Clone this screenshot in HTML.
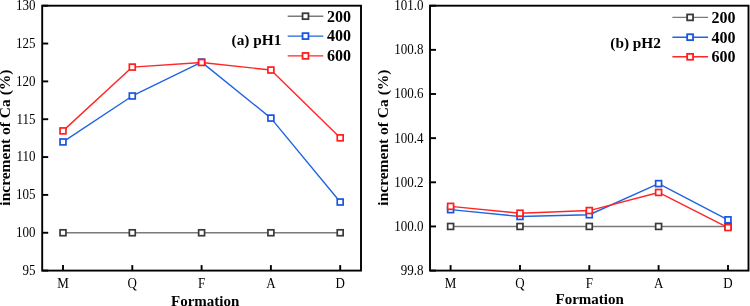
<!DOCTYPE html>
<html><head><meta charset="utf-8"><style>
html,body{margin:0;padding:0;background:#fff;}
body{width:750px;height:306px;overflow:hidden;}
svg{display:block;will-change:transform;}
</style></head><body>
<svg width="750" height="306" viewBox="0 0 750 306">
<rect width="750" height="306" fill="#fff"/>
<polyline points="63.00,232.76 132.30,232.76 201.60,232.76 270.90,232.76 340.20,232.76" fill="none" stroke="#7a7a7a" stroke-width="1.4" stroke-linejoin="round"/><rect x="60.05" y="229.81" width="5.90" height="5.90" fill="#fff" stroke="#3a3a3a" stroke-width="1.7"/><rect x="129.35" y="229.81" width="5.90" height="5.90" fill="#fff" stroke="#3a3a3a" stroke-width="1.7"/><rect x="198.65" y="229.81" width="5.90" height="5.90" fill="#fff" stroke="#3a3a3a" stroke-width="1.7"/><rect x="267.95" y="229.81" width="5.90" height="5.90" fill="#fff" stroke="#3a3a3a" stroke-width="1.7"/><rect x="337.25" y="229.81" width="5.90" height="5.90" fill="#fff" stroke="#3a3a3a" stroke-width="1.7"/><polyline points="63.00,141.93 132.30,95.99 201.60,62.09 270.90,118.09 340.20,202.03" fill="none" stroke="#2164e2" stroke-width="1.4" stroke-linejoin="round"/><rect x="60.05" y="138.98" width="5.90" height="5.90" fill="#fff" stroke="#1855e0" stroke-width="1.7"/><rect x="129.35" y="93.04" width="5.90" height="5.90" fill="#fff" stroke="#1855e0" stroke-width="1.7"/><rect x="198.65" y="59.14" width="5.90" height="5.90" fill="#fff" stroke="#1855e0" stroke-width="1.7"/><rect x="267.95" y="115.14" width="5.90" height="5.90" fill="#fff" stroke="#1855e0" stroke-width="1.7"/><rect x="337.25" y="199.08" width="5.90" height="5.90" fill="#fff" stroke="#1855e0" stroke-width="1.7"/><polyline points="63.00,130.88 132.30,67.08 201.60,62.46 270.90,70.03 340.20,137.85" fill="none" stroke="#ff2626" stroke-width="1.4" stroke-linejoin="round"/><rect x="60.05" y="127.93" width="5.90" height="5.90" fill="#fff" stroke="#ff1e1e" stroke-width="1.7"/><rect x="129.35" y="64.13" width="5.90" height="5.90" fill="#fff" stroke="#ff1e1e" stroke-width="1.7"/><rect x="198.65" y="59.51" width="5.90" height="5.90" fill="#fff" stroke="#ff1e1e" stroke-width="1.7"/><rect x="267.95" y="67.08" width="5.90" height="5.90" fill="#fff" stroke="#ff1e1e" stroke-width="1.7"/><rect x="337.25" y="134.90" width="5.90" height="5.90" fill="#fff" stroke="#ff1e1e" stroke-width="1.7"/><rect x="42.2" y="5.7" width="318.8" height="264.90000000000003" fill="none" stroke="#000" stroke-width="1.9"/><line x1="42.2" y1="270.60" x2="48.2" y2="270.60" stroke="#000" stroke-width="1.9"/><text transform="translate(35.4,275.00) scale(0.93,1)" text-anchor="end" style="font-family:'Liberation Serif',serif;font-size:14px">95</text><line x1="42.2" y1="232.76" x2="48.2" y2="232.76" stroke="#000" stroke-width="1.9"/><text transform="translate(35.4,237.16) scale(0.93,1)" text-anchor="end" style="font-family:'Liberation Serif',serif;font-size:14px">100</text><line x1="42.2" y1="194.91" x2="48.2" y2="194.91" stroke="#000" stroke-width="1.9"/><text transform="translate(35.4,199.31) scale(0.93,1)" text-anchor="end" style="font-family:'Liberation Serif',serif;font-size:14px">105</text><line x1="42.2" y1="157.07" x2="48.2" y2="157.07" stroke="#000" stroke-width="1.9"/><text transform="translate(35.4,161.47) scale(0.93,1)" text-anchor="end" style="font-family:'Liberation Serif',serif;font-size:14px">110</text><line x1="42.2" y1="119.23" x2="48.2" y2="119.23" stroke="#000" stroke-width="1.9"/><text transform="translate(35.4,123.63) scale(0.93,1)" text-anchor="end" style="font-family:'Liberation Serif',serif;font-size:14px">115</text><line x1="42.2" y1="81.39" x2="48.2" y2="81.39" stroke="#000" stroke-width="1.9"/><text transform="translate(35.4,85.79) scale(0.93,1)" text-anchor="end" style="font-family:'Liberation Serif',serif;font-size:14px">120</text><line x1="42.2" y1="43.54" x2="48.2" y2="43.54" stroke="#000" stroke-width="1.9"/><text transform="translate(35.4,47.94) scale(0.93,1)" text-anchor="end" style="font-family:'Liberation Serif',serif;font-size:14px">125</text><line x1="42.2" y1="5.70" x2="48.2" y2="5.70" stroke="#000" stroke-width="1.9"/><text transform="translate(35.4,10.10) scale(0.93,1)" text-anchor="end" style="font-family:'Liberation Serif',serif;font-size:14px">130</text><line x1="63.0" y1="270.6" x2="63.0" y2="265.1" stroke="#000" stroke-width="1.9"/><text transform="translate(63.0,288) scale(0.93,1)" text-anchor="middle" style="font-family:'Liberation Serif',serif;font-size:14px">M</text><line x1="132.3" y1="270.6" x2="132.3" y2="265.1" stroke="#000" stroke-width="1.9"/><text transform="translate(132.3,288) scale(0.93,1)" text-anchor="middle" style="font-family:'Liberation Serif',serif;font-size:14px">Q</text><line x1="201.6" y1="270.6" x2="201.6" y2="265.1" stroke="#000" stroke-width="1.9"/><text transform="translate(201.6,288) scale(0.93,1)" text-anchor="middle" style="font-family:'Liberation Serif',serif;font-size:14px">F</text><line x1="270.9" y1="270.6" x2="270.9" y2="265.1" stroke="#000" stroke-width="1.9"/><text transform="translate(270.9,288) scale(0.93,1)" text-anchor="middle" style="font-family:'Liberation Serif',serif;font-size:14px">A</text><line x1="340.2" y1="270.6" x2="340.2" y2="265.1" stroke="#000" stroke-width="1.9"/><text transform="translate(340.2,288) scale(0.93,1)" text-anchor="middle" style="font-family:'Liberation Serif',serif;font-size:14px">D</text><text transform="translate(10.2,137.6) rotate(-90)" text-anchor="middle" style="font-family:'Liberation Serif',serif;font-weight:bold;font-size:15.5px">increment of Ca (%)</text><text x="205.2" y="306.2" text-anchor="middle" style="font-family:'Liberation Serif',serif;font-weight:bold;font-size:15px">Formation</text><text transform="translate(231.6,45.2) scale(1,1)" style="font-family:'Liberation Serif',serif;font-weight:bold;font-size:15.3px">(a) pH1</text><line x1="287.7" y1="16.2" x2="323.3" y2="16.2" stroke="#7a7a7a" stroke-width="1.4"/><rect x="302.55" y="13.25" width="5.90" height="5.90" fill="#fff" stroke="#3a3a3a" stroke-width="1.8"/><text x="327.0" y="21.50" style="font-family:'Liberation Serif',serif;font-weight:bold;font-size:16px">200</text><line x1="287.7" y1="36.1" x2="323.3" y2="36.1" stroke="#2164e2" stroke-width="1.4"/><rect x="302.55" y="33.15" width="5.90" height="5.90" fill="#fff" stroke="#1855e0" stroke-width="1.8"/><text x="327.0" y="41.40" style="font-family:'Liberation Serif',serif;font-weight:bold;font-size:16px">400</text><line x1="287.7" y1="55.9" x2="323.3" y2="55.9" stroke="#ff2626" stroke-width="1.4"/><rect x="302.55" y="52.95" width="5.90" height="5.90" fill="#fff" stroke="#ff1e1e" stroke-width="1.8"/><text x="327.0" y="61.20" style="font-family:'Liberation Serif',serif;font-weight:bold;font-size:16px">600</text><polyline points="450.60,226.45 520.00,226.45 589.30,226.45 658.60,226.45 728.00,226.45" fill="none" stroke="#7a7a7a" stroke-width="1.4" stroke-linejoin="round"/><rect x="447.65" y="223.50" width="5.90" height="5.90" fill="#fff" stroke="#3a3a3a" stroke-width="1.7"/><rect x="517.05" y="223.50" width="5.90" height="5.90" fill="#fff" stroke="#3a3a3a" stroke-width="1.7"/><rect x="586.35" y="223.50" width="5.90" height="5.90" fill="#fff" stroke="#3a3a3a" stroke-width="1.7"/><rect x="655.65" y="223.50" width="5.90" height="5.90" fill="#fff" stroke="#3a3a3a" stroke-width="1.7"/><rect x="725.05" y="223.50" width="5.90" height="5.90" fill="#fff" stroke="#3a3a3a" stroke-width="1.7"/><polyline points="450.60,209.67 520.00,216.52 589.30,214.75 658.60,183.62 728.00,219.83" fill="none" stroke="#2164e2" stroke-width="1.4" stroke-linejoin="round"/><rect x="447.65" y="206.72" width="5.90" height="5.90" fill="#fff" stroke="#1855e0" stroke-width="1.7"/><rect x="517.05" y="213.57" width="5.90" height="5.90" fill="#fff" stroke="#1855e0" stroke-width="1.7"/><rect x="586.35" y="211.80" width="5.90" height="5.90" fill="#fff" stroke="#1855e0" stroke-width="1.7"/><rect x="655.65" y="180.67" width="5.90" height="5.90" fill="#fff" stroke="#1855e0" stroke-width="1.7"/><rect x="725.05" y="216.88" width="5.90" height="5.90" fill="#fff" stroke="#1855e0" stroke-width="1.7"/><polyline points="450.60,206.36 520.00,213.20 589.30,210.56 658.60,192.45 728.00,227.55" fill="none" stroke="#ff2626" stroke-width="1.4" stroke-linejoin="round"/><rect x="447.65" y="203.41" width="5.90" height="5.90" fill="#fff" stroke="#ff1e1e" stroke-width="1.7"/><rect x="517.05" y="210.25" width="5.90" height="5.90" fill="#fff" stroke="#ff1e1e" stroke-width="1.7"/><rect x="586.35" y="207.61" width="5.90" height="5.90" fill="#fff" stroke="#ff1e1e" stroke-width="1.7"/><rect x="655.65" y="189.50" width="5.90" height="5.90" fill="#fff" stroke="#ff1e1e" stroke-width="1.7"/><rect x="725.05" y="224.60" width="5.90" height="5.90" fill="#fff" stroke="#ff1e1e" stroke-width="1.7"/><rect x="430.0" y="5.7" width="318.5" height="264.90000000000003" fill="none" stroke="#000" stroke-width="1.9"/><line x1="430.0" y1="270.60" x2="436.0" y2="270.60" stroke="#000" stroke-width="1.9"/><text transform="translate(423.4,275.00) scale(0.93,1)" text-anchor="end" style="font-family:'Liberation Serif',serif;font-size:14px">99.8</text><line x1="430.0" y1="226.45" x2="436.0" y2="226.45" stroke="#000" stroke-width="1.9"/><text transform="translate(423.4,230.85) scale(0.93,1)" text-anchor="end" style="font-family:'Liberation Serif',serif;font-size:14px">100.0</text><line x1="430.0" y1="182.30" x2="436.0" y2="182.30" stroke="#000" stroke-width="1.9"/><text transform="translate(423.4,186.70) scale(0.93,1)" text-anchor="end" style="font-family:'Liberation Serif',serif;font-size:14px">100.2</text><line x1="430.0" y1="138.15" x2="436.0" y2="138.15" stroke="#000" stroke-width="1.9"/><text transform="translate(423.4,142.55) scale(0.93,1)" text-anchor="end" style="font-family:'Liberation Serif',serif;font-size:14px">100.4</text><line x1="430.0" y1="94.00" x2="436.0" y2="94.00" stroke="#000" stroke-width="1.9"/><text transform="translate(423.4,98.40) scale(0.93,1)" text-anchor="end" style="font-family:'Liberation Serif',serif;font-size:14px">100.6</text><line x1="430.0" y1="49.85" x2="436.0" y2="49.85" stroke="#000" stroke-width="1.9"/><text transform="translate(423.4,54.25) scale(0.93,1)" text-anchor="end" style="font-family:'Liberation Serif',serif;font-size:14px">100.8</text><line x1="430.0" y1="5.70" x2="436.0" y2="5.70" stroke="#000" stroke-width="1.9"/><text transform="translate(423.4,10.10) scale(0.93,1)" text-anchor="end" style="font-family:'Liberation Serif',serif;font-size:14px">101.0</text><line x1="450.6" y1="270.6" x2="450.6" y2="265.1" stroke="#000" stroke-width="1.9"/><text transform="translate(450.6,288) scale(0.93,1)" text-anchor="middle" style="font-family:'Liberation Serif',serif;font-size:14px">M</text><line x1="520.0" y1="270.6" x2="520.0" y2="265.1" stroke="#000" stroke-width="1.9"/><text transform="translate(520.0,288) scale(0.93,1)" text-anchor="middle" style="font-family:'Liberation Serif',serif;font-size:14px">Q</text><line x1="589.3" y1="270.6" x2="589.3" y2="265.1" stroke="#000" stroke-width="1.9"/><text transform="translate(589.3,288) scale(0.93,1)" text-anchor="middle" style="font-family:'Liberation Serif',serif;font-size:14px">F</text><line x1="658.6" y1="270.6" x2="658.6" y2="265.1" stroke="#000" stroke-width="1.9"/><text transform="translate(658.6,288) scale(0.93,1)" text-anchor="middle" style="font-family:'Liberation Serif',serif;font-size:14px">A</text><line x1="728.0" y1="270.6" x2="728.0" y2="265.1" stroke="#000" stroke-width="1.9"/><text transform="translate(728.0,288) scale(0.93,1)" text-anchor="middle" style="font-family:'Liberation Serif',serif;font-size:14px">D</text><text transform="translate(388.2,137.6) rotate(-90)" text-anchor="middle" style="font-family:'Liberation Serif',serif;font-weight:bold;font-size:15.5px">increment of Ca (%)</text><text x="589.7" y="303.8" text-anchor="middle" style="font-family:'Liberation Serif',serif;font-weight:bold;font-size:15px">Formation</text><text transform="translate(610.3,47.6) scale(1,1)" style="font-family:'Liberation Serif',serif;font-weight:bold;font-size:15.3px">(b) pH2</text><line x1="672.4" y1="17.4" x2="708.1" y2="17.4" stroke="#7a7a7a" stroke-width="1.4"/><rect x="687.15" y="14.45" width="5.90" height="5.90" fill="#fff" stroke="#3a3a3a" stroke-width="1.8"/><text x="711.5" y="22.70" style="font-family:'Liberation Serif',serif;font-weight:bold;font-size:16px">200</text><line x1="672.4" y1="37.2" x2="708.1" y2="37.2" stroke="#2164e2" stroke-width="1.4"/><rect x="687.15" y="34.25" width="5.90" height="5.90" fill="#fff" stroke="#1855e0" stroke-width="1.8"/><text x="711.5" y="42.50" style="font-family:'Liberation Serif',serif;font-weight:bold;font-size:16px">400</text><line x1="672.4" y1="56.8" x2="708.1" y2="56.8" stroke="#ff2626" stroke-width="1.4"/><rect x="687.15" y="53.85" width="5.90" height="5.90" fill="#fff" stroke="#ff1e1e" stroke-width="1.8"/><text x="711.5" y="62.10" style="font-family:'Liberation Serif',serif;font-weight:bold;font-size:16px">600</text>
</svg>
</body></html>
